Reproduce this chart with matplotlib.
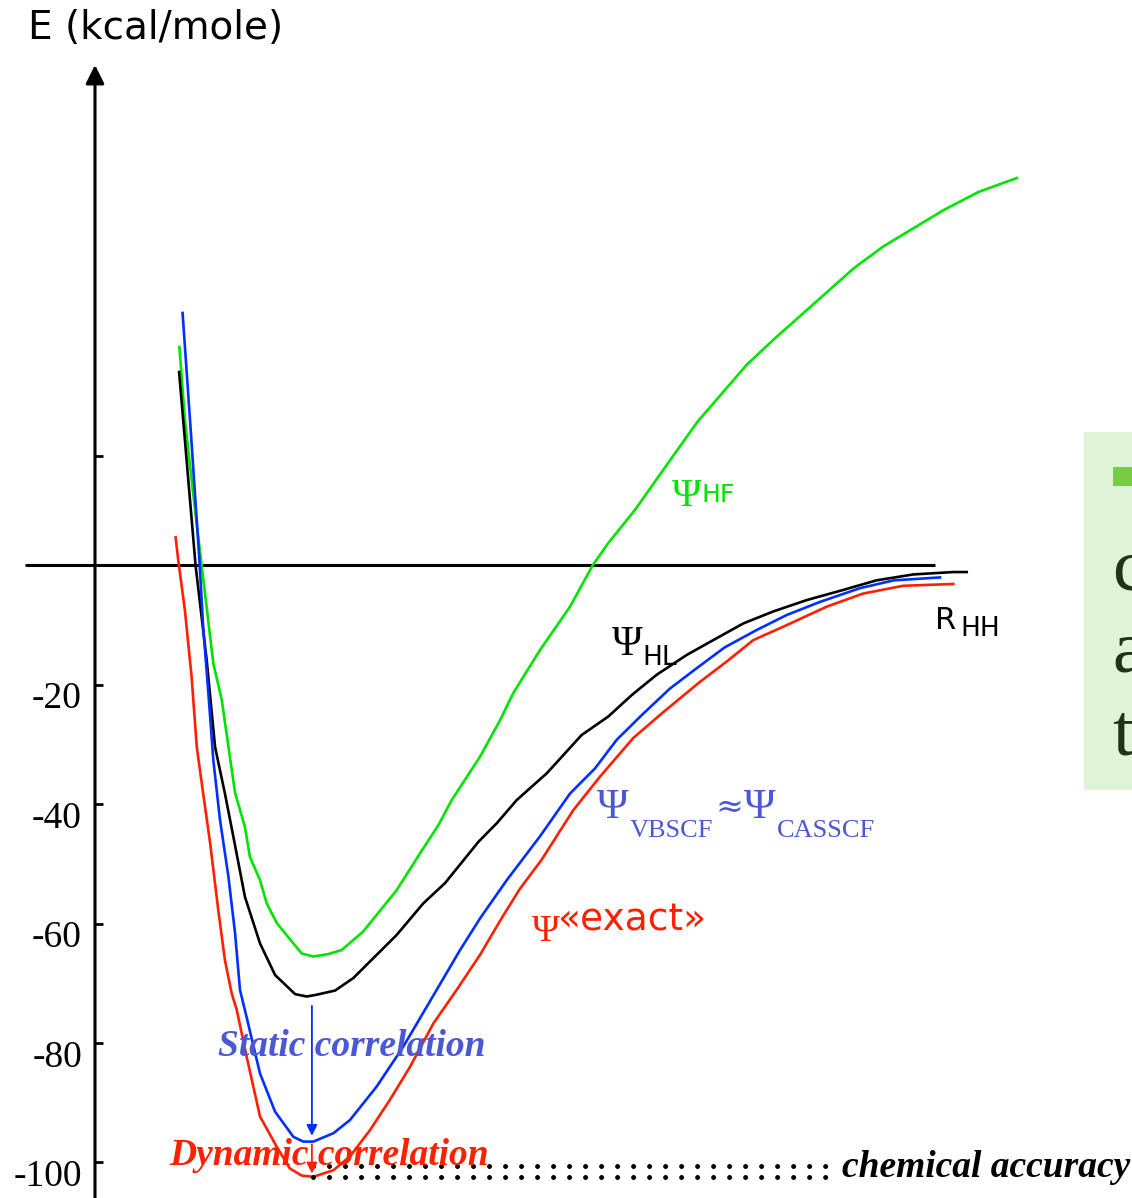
import numpy as np
import matplotlib
matplotlib.use("Agg")
import matplotlib.pyplot as plt
from matplotlib.patches import Rectangle

# H2 potential energy curves (R in Angstrom, E in kcal/mole)
r_hf = [0.291, 0.310, 0.345, 0.368, 0.408, 0.437, 0.483, 0.517, 0.534, 0.569, 0.592, 0.627,
        0.684, 0.713, 0.753, 0.804, 0.851, 0.925, 1.040, 1.121, 1.184, 1.230, 1.328, 1.397,
        1.442, 1.534, 1.638, 1.716, 1.769, 1.862, 2.000, 2.078, 2.247, 2.339, 2.617, 2.717,
        2.925, 3.048, 3.179]
e_hf = [36.6, 24.4, 9.3, -0.1, -16.4, -22.5, -38.1, -43.8, -48.8, -52.7, -56.6, -59.9,
        -63.3, -65.0, -65.5, -65.1, -64.4, -61.3, -54.4, -48.2, -43.5, -39.3, -32.0, -25.9,
        -21.4, -14.2, -6.9, 0.0, 3.7, 9.3, 18.8, 24.1, 33.6, 37.8, 49.8, 53.4,
        59.5, 62.6, 64.9]

r_hl = [0.290, 0.310, 0.347, 0.385, 0.414, 0.448, 0.477, 0.517, 0.569, 0.621, 0.690, 0.730,
        0.764, 0.828, 0.891, 1.040, 1.132, 1.207, 1.322, 1.385, 1.454, 1.558, 1.678, 1.770,
        1.851, 1.937, 2.040, 2.132, 2.236, 2.339, 2.454, 2.580, 2.694, 2.822, 2.960, 3.006]
e_hl = [32.4, 21.0, -0.1, -15.8, -30.4, -38.2, -45.4, -55.5, -63.3, -68.6, -71.8, -72.2,
        -71.9, -71.2, -69.1, -61.9, -56.6, -53.2, -46.3, -43.2, -39.3, -34.8, -28.4, -25.3,
        -21.7, -18.3, -15.0, -12.5, -9.7, -7.7, -5.8, -4.1, -2.5, -1.5, -1.1, -1.1]

r_vb = [0.302, 0.331, 0.360, 0.373, 0.391, 0.408, 0.431, 0.460, 0.483, 0.500, 0.521, 0.569,
        0.621, 0.684, 0.718, 0.753, 0.822, 0.879, 0.971, 1.063, 1.178, 1.259, 1.328, 1.420,
        1.534, 1.638, 1.724, 1.799, 1.891, 1.983, 2.075, 2.172, 2.282, 2.385, 2.500, 2.638,
        2.753, 2.914]
e_vb = [42.3, 22.0, 0.9, -10.3, -21.4, -32.6, -42.6, -52.1, -61.6, -71.1, -75.3, -85.1,
        -91.5, -95.7, -96.5, -96.5, -95.1, -92.9, -87.3, -80.6, -71.1, -64.4, -59.1, -52.7,
        -45.4, -38.2, -34.0, -29.2, -24.8, -20.6, -17.2, -13.7, -10.8, -8.3, -6.1, -3.8,
        -2.5, -2.0]

r_ex = [0.278, 0.287, 0.310, 0.333, 0.351, 0.373, 0.397, 0.425, 0.448, 0.471, 0.489, 0.523,
        0.569, 0.627, 0.672, 0.713, 0.753, 0.822, 0.879, 0.948, 1.017, 1.086, 1.167, 1.247,
        1.328, 1.402, 1.466, 1.540, 1.649, 1.741, 1.856, 1.954, 2.086, 2.178, 2.270, 2.385,
        2.523, 2.649, 2.787, 2.960]
e_ex = [4.7, 0.9, -7.5, -18.6, -30.4, -38.2, -46.5, -57.7, -66.1, -71.6, -74.5, -82.3,
        -92.3, -97.4, -101.0, -102.2, -102.4, -101.3, -99.0, -94.6, -89.5, -84.0, -76.7, -71.1,
        -65.2, -59.1, -54.1, -49.3, -41.0, -35.4, -28.9, -24.8, -19.5, -16.1, -12.5, -10.0,
        -6.9, -4.7, -3.4, -3.1]

yticks = [18.3, -20, -40, -60, -80, -100]
ylabels = ['', '-20', '-40', '-60', '-80', '-100']

r_eq = 0.748             # where the correlation arrows sit
e_hl_min = -73.3
e_vb_min = -96.0
e_ex_min = -102.3
acc_levels = [-100.6, -102.4]   # dotted "chemical accuracy" rows
acc_span = [0.752, 2.534]

c_green = '#00e400'
c_blue = '#0030ff'
c_red = '#ff2000'
c_slate = '#4a58d4'

fig = plt.figure(figsize=(11.32, 11.98), dpi=100)
ax = fig.add_axes([0, 0, 1, 1])
ax.set_xlim(-0.3276, 3.5759)
ax.set_ylim(-105.95, 94.72)
ax.axis('off')

# axes drawn by hand like the slide
ax.plot([-0.241, 2.897], [0, 0], color='black', lw=2.2, solid_capstyle='butt')
ax.annotate('', xy=(0, 84.3), xytext=(0, -110),
            arrowprops=dict(arrowstyle='-|>', color='black', lw=2.2, mutation_scale=28))
ax.hlines(yticks, 0, 0.028, color='black', lw=2)
for v, s in zip(yticks, ylabels):
    ax.text(-0.045, v - 2.4, s, ha='right', va='center', fontsize=27,
            family='Liberation Serif')
ax.text(-0.231, 90.0, 'E (kcal/mole)', ha='left', va='center', fontsize=28,
        family='DejaVu Sans')

# curves
ax.plot(r_hf, e_hf, color=c_green, lw=1.9)
ax.plot(r_hl, e_hl, color='black', lw=1.9)
ax.plot(r_vb, e_vb, color=c_blue, lw=1.9)
ax.plot(r_ex, e_ex, color=c_red, lw=1.9)

# curve labels
ax.text(1.990, 11.6, 'Ψ', color=c_green, fontsize=29, family='Liberation Serif', va='center')
ax.text(2.093, 11.8, 'HF', color=c_green, fontsize=18, family='DejaVu Sans', va='center')
ax.text(1.783, -13.3, 'Ψ', color='black', fontsize=30, family='Liberation Serif', va='center')
ax.text(1.888, -15.5, 'HL', color='black', fontsize=19, family='DejaVu Sans', va='center')
ax.text(2.897, -9.3, 'R', color='black', fontsize=22, family='DejaVu Sans', va='center')
ax.text(2.983, -10.6, 'HH', color='black', fontsize=19, family='DejaVu Sans', va='center')
ax.text(1.731, -40.6, 'Ψ', color=c_slate, fontsize=31, family='Liberation Serif', va='center')
ax.text(1.845, -44.5, 'VBSCF', color=c_slate, fontsize=19, family='Liberation Serif', va='center')
ax.text(2.141, -40.6, '≈', color=c_slate, fontsize=24, family='DejaVu Serif', va='center')
ax.text(2.238, -40.6, 'Ψ', color=c_slate, fontsize=31, family='Liberation Serif', va='center')
ax.text(2.352, -44.5, 'CASSCF', color=c_slate, fontsize=19, family='Liberation Serif', va='center')
ax.text(1.507, -61.4, 'Ψ', color=c_red, fontsize=27, family='Liberation Serif', va='center')
ax.text(1.593, -59.4, '«exact»', color=c_red, fontsize=27, family='DejaVu Sans', va='center')

# correlation arrows and dotted accuracy band
ax.annotate('', xy=(r_eq, e_vb_min), xytext=(r_eq, e_hl_min),
            arrowprops=dict(arrowstyle='-|>', color=c_blue, lw=1.3, mutation_scale=16))
ax.annotate('', xy=(r_eq, e_ex_min), xytext=(r_eq, e_vb_min - 0.5),
            arrowprops=dict(arrowstyle='-|>', color=c_red, lw=1.3, mutation_scale=16))
for lev in acc_levels:
    ax.plot(acc_span, [lev, lev], color='black', lw=3.6, linestyle=(0, (0.001, 3.2)),
            dash_capstyle='round')

ax.text(0.424, -80.6, 'Static correlation', color=c_slate, fontsize=27,
        family='Liberation Serif', weight='bold', style='italic', va='center')
ax.text(0.255, -98.9, 'Dynamic correlation', color=c_red, fontsize=27,
        family='Liberation Serif', weight='bold', style='italic', va='center')
ax.text(2.576, -100.8, 'chemical accuracy', color='black', fontsize=27,
        family='Liberation Serif', weight='bold', style='italic', va='center')

# clipped slide box on the right
ax.add_patch(Rectangle((3.41, -37.6), 0.3, 60.0, facecolor='#dff3d6', edgecolor='none'))
ax.add_patch(Rectangle((3.51, 13.3), 0.1, 3.2, facecolor='#77cc44', edgecolor='none'))
for s, b in zip(['c', 'a', 't'], [-4.1, -17.8, -31.7]):
    ax.text(3.507, b, s, color='#1f3315', fontsize=54, family='Liberation Serif',
            va='baseline')

fig.savefig('out.png', dpi=100)
